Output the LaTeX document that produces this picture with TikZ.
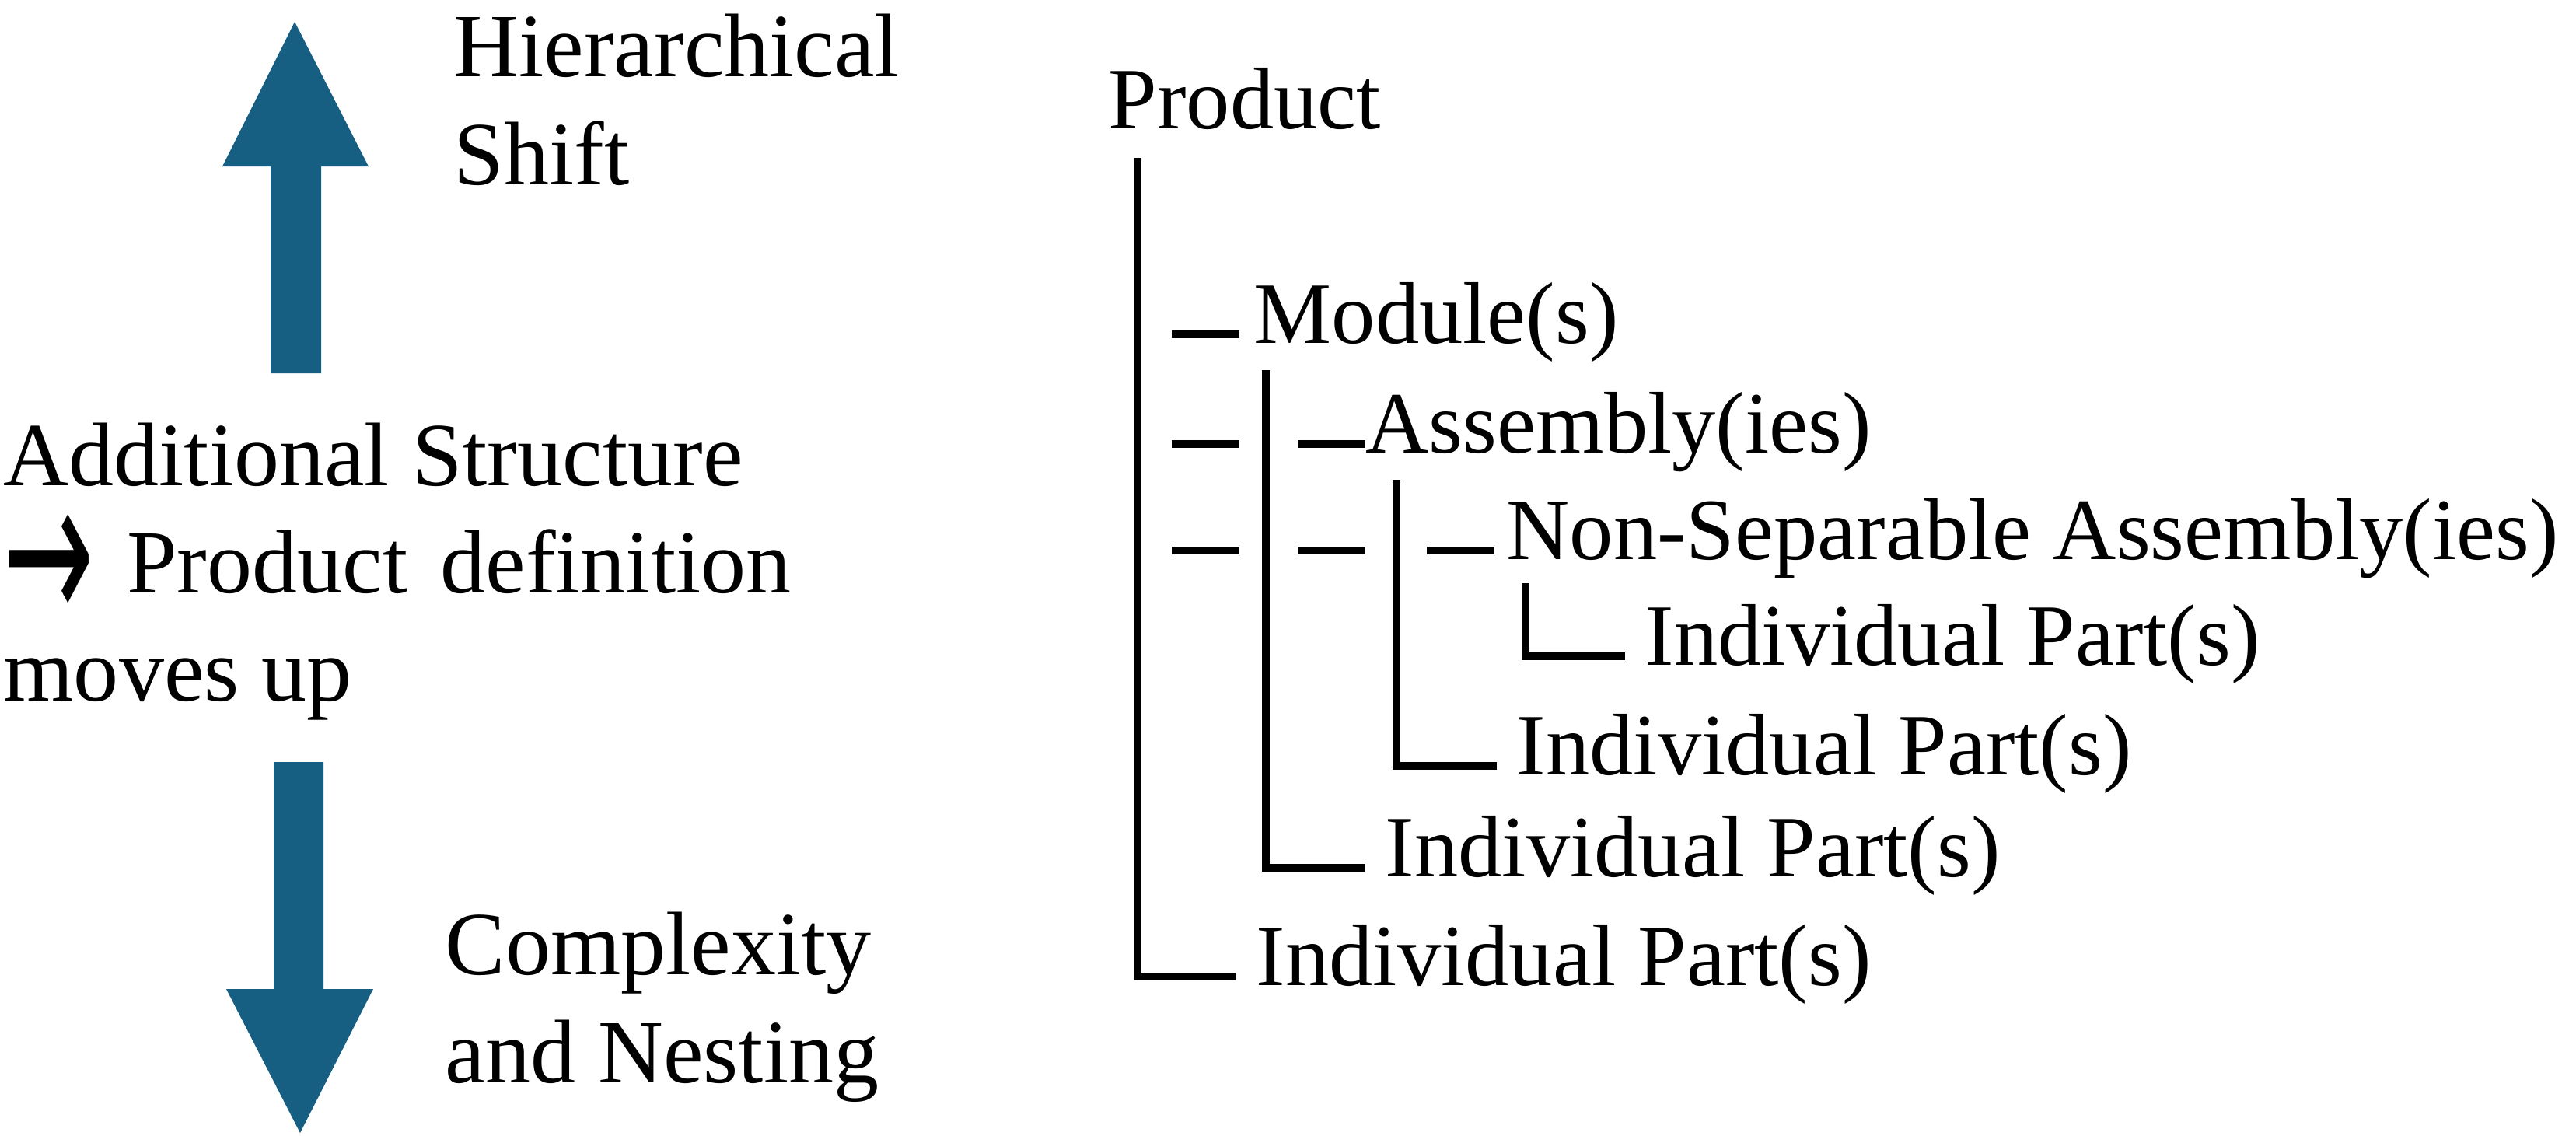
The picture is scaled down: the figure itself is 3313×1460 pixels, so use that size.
\documentclass[tikz,border=0pt]{standalone}
\usepackage{fontspec}
\setmainfont{Liberation Serif}
\newfontfamily\arrowfont{DejaVu Sans}
\usetikzlibrary{calc}
\definecolor{shiftblue}{RGB}{22,94,130}

\tikzset{
	treetext/.style={anchor=base west, inner sep=0pt, font=\fontsize{32}{38}\selectfont, text height=0.8em, text depth=0.18em},
	sidetext/.style={anchor=base west, inner sep=0pt, align=left, font=\fontsize{33}{39.3}\selectfont},
	treeline/.style={line width=0.1cm, shorten >=0.25cm},
	treedash/.style={line width=0.1cm}
}

\begin{document}
\begin{tikzpicture}[x=0.01cm, y=-0.01cm]
		\useasboundingbox (0,0) rectangle (3313,1460);
		% arrows on the left
		\fill[shiftblue] (379,28) -- (474,214) -- (413,214) -- (413,480) -- (348,480) -- (348,214) -- (286,214) -- cycle;
		\fill[shiftblue] (386,1457) -- (480,1272) -- (416,1272) -- (416,980) -- (352,980) -- (352,1272) -- (291,1272) -- cycle;
		% multi-line nodes sit on their last baseline
		\node[sidetext] (shift) at (583,237) {Hierarchical\\Shift};
		\node[sidetext] (structure) at (4,901) {Additional Structure\\\smash{\raisebox{-0.34em}{\scalebox{1.2}[2.3]{\arrowfont →}}}\hspace{0.42cm}Product\hspace{0.42cm}definition\\moves up};
		\node[sidetext] (nesting) at (572,1392) {Complexity\\and Nesting};
		% product tree
		\node[treetext] (product) at (1425,165) {Product};
		\node[treetext] (module) at (1612,441) {Module(s)};
		\node[treetext] (assembly) at (1756,582) {Assembly(ies)};
		\node[treetext] (nonsep) at (1937,719) {Non-Separable Assembly(ies)};
		\node[treetext] (part4) at (2115,855) {Individual Part(s)};
		\node[treetext] (part3) at (1950,996) {Individual Part(s)};
		\node[treetext] (part2) at (1781,1127) {Individual Part(s)};
		\node[treetext] (part1) at (1615,1267) {Individual Part(s)};
		\coordinate (stem1) at (1463,203);
		\coordinate (stem2) at (1628,476);
		\coordinate (stem3) at (1796,617);
		\coordinate (stem4) at (1962,750);
		\draw[treeline] (stem1) |- (part1.west);
		\draw[treeline] (stem2) |- (part2.west);
		\draw[treeline] (stem3) |- (part3.west);
		\draw[treeline] (stem4) |- (part4.west);
		\draw[treedash] ($(module.west -| stem1)+(44,0)$) -- ++(87,0);
		\draw[treedash] ($(assembly.west -| stem1)+(44,0)$) -- ++(87,0);
		\draw[treedash] ($(assembly.west -| stem2)+(41,0)$) -- ++(87,0);
		\draw[treedash] ($(nonsep.west -| stem1)+(44,0)$) -- ++(87,0);
		\draw[treedash] ($(nonsep.west -| stem2)+(41,0)$) -- ++(87,0);
		\draw[treedash] ($(nonsep.west -| stem3)+(39,0)$) -- ++(87,0);
\end{tikzpicture}
\end{document}
